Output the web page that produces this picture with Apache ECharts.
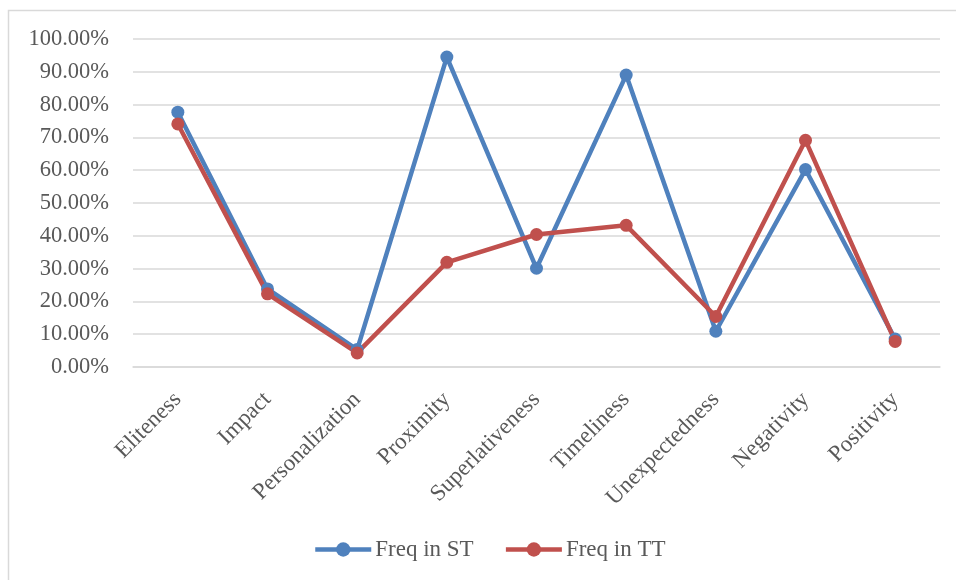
<!DOCTYPE html>
<html>
<head>
<meta charset="utf-8">
<script src="https://cdn.jsdelivr.net/npm/echarts@6/dist/echarts.min.js"></script>
<style>
  html, body { margin: 0; padding: 0; background: #ffffff; }
  #chart { width: 956px; height: 580px; }
</style>
</head>
<body>
<div id="chart"></div>
<script>
// News values and their frequency in source text (ST) and target text (TT)
var categories = ['Eliteness', 'Impact', 'Personalization', 'Proximity', 'Superlativeness',
                  'Timeliness', 'Unexpectedness', 'Negativity', 'Positivity'];
var freqST = [0.777, 0.238, 0.053, 0.945, 0.301, 0.890, 0.109, 0.602, 0.085];
var freqTT = [0.741, 0.223, 0.043, 0.319, 0.404, 0.432, 0.154, 0.691, 0.078];
var seriesNames = ['Freq in ST', 'Freq in TT'];
var seriesColors = ['#4F81BD', '#C0504D'];

var FONT = '"Liberation Serif", "Times New Roman", serif';
var TEXT_COLOR = '#595959';

var chart = echarts.init(document.getElementById('chart'), null, { renderer: 'canvas' });

function lineSeries(name, data, color) {
  return {
    name: name,
    type: 'line',
    data: data,
    symbol: 'circle',
    symbolSize: 13,
    showSymbol: true,
    lineStyle: { color: color, width: 4.5 },
    itemStyle: { color: color },
    emphasis: { disabled: true },
    animation: false
  };
}

chart.setOption({
  backgroundColor: '#ffffff',
  animation: false,
  graphic: [{
    type: 'rect',
    shape: { x: 8.5, y: 10.5, width: 1000, height: 1000 },
    style: { fill: 'none', stroke: '#d9d9d9', lineWidth: 1.5 },
    silent: true,
    z: -1
  }],
  grid: { left: 133, right: 16, top: 39, bottom: 213, containLabel: false },
  legend: {
    data: seriesNames,
    bottom: 14,
    left: 308,
    itemWidth: 56,
    itemHeight: 18,
    itemGap: 30,
    lineStyle: { width: 4.5 },
    textStyle: { fontFamily: FONT, fontSize: 23, color: TEXT_COLOR, padding: [0, 0, 0, -1] }
  },
  xAxis: {
    type: 'category',
    data: categories,
    boundaryGap: true,
    axisLine: { show: true, lineStyle: { color: '#d9d9d9', width: 1.5 } },
    axisTick: { show: false },
    axisLabel: {
      interval: 0,
      rotate: 45,
      margin: 29,
      fontFamily: FONT,
      fontSize: 23,
      color: TEXT_COLOR
    }
  },
  yAxis: {
    type: 'value',
    min: 0,
    max: 1,
    interval: 0.1,
    axisLine: { show: false },
    axisTick: { show: false },
    splitLine: { lineStyle: { color: '#d9d9d9', width: 1.5 } },
    axisLabel: {
      margin: 24,
      fontFamily: FONT,
      fontSize: 22.5,
      color: TEXT_COLOR,
      formatter: function (v) { return (v * 100).toFixed(2) + '%'; }
    }
  },
  series: [
    lineSeries(seriesNames[0], freqST, seriesColors[0]),
    lineSeries(seriesNames[1], freqTT, seriesColors[1])
  ]
});
</script>
</body>
</html>
